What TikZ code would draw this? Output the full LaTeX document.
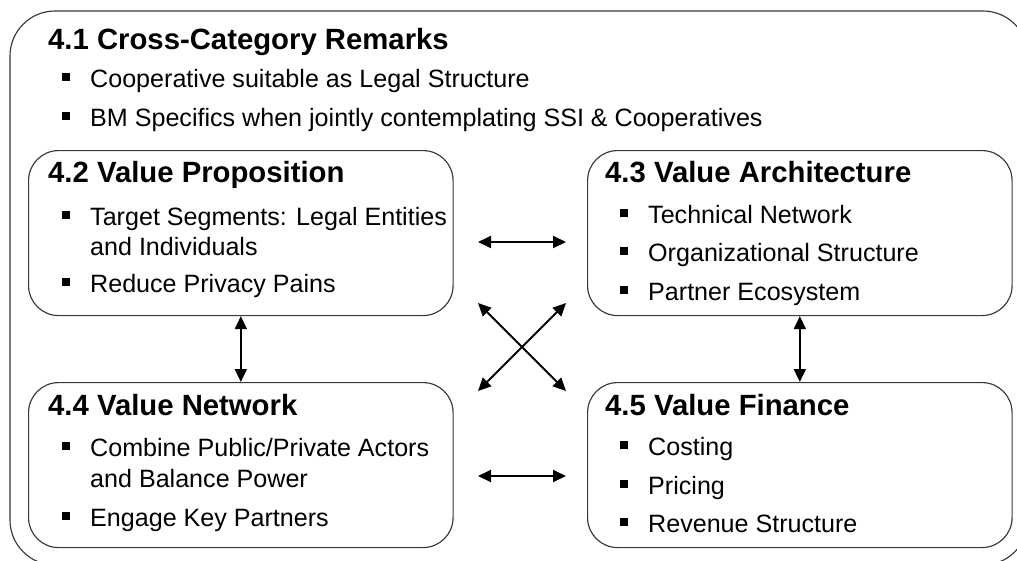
\documentclass[tikz,border=0pt]{standalone}
\usepackage{fontspec}
\setmainfont{Liberation Sans}
\usetikzlibrary{arrows.meta}
\begin{document}
\begin{tikzpicture}[x=1pt,y=-1pt,
  frame/.style={draw=black!78, line width=1.15pt},
  box/.style={frame, rounded corners=30pt, minimum width=424.5pt, minimum height=165pt,
              inner sep=0pt, anchor=north west},
  head/.style={anchor=base west, inner sep=0pt, font=\fontsize{29.3}{34}\selectfont\bfseries},
  item/.style={anchor=base west, inner sep=0pt, font=\fontsize{25.1}{30}\selectfont},
  link/.style={line width=1.9pt,
               {Triangle[length=13pt,width=12pt]}-{Triangle[length=13pt,width=12pt]}},
]
\useasboundingbox (0,0) rectangle (1017,560);

% outer frame, running past the right and bottom edges
\begin{scope}
  \clip (0,0) rectangle (1017,560);
  \draw[frame, rounded corners=45pt] (10,11) rectangle (1028,565);
\end{scope}

% 4.1 cross-category remarks
\node[head] (h41) at (48,49) {4.1 Cross-Category Remarks};
\node[item] (t411) at (90,87) {Cooperative suitable as Legal Structure};
\node[item] (t412) at (90,126) {BM Specifics when jointly contemplating SSI \& Cooperatives};

% the four category boxes
\node[box] (b42) at (28,150) {};
\node[box] (b43) at (587,150) {};
\node[box] (b44) at (28,382) {};
\node[box] (b45) at (587,382) {};

% 4.2 value proposition
\node[head] (h42) at (48,182) {4.2 Value Proposition};
\node[item] (t421) at (90,225) {Target Segments: Legal Entities};
\node[item] (t421b) at (90,255) {and Individuals};
\node[item] (t422) at (90,292) {Reduce Privacy Pains};

% 4.3 value architecture
\node[head] (h43) at (605,182) {4.3 Value Architecture};
\node[item] (t431) at (648,223) {Technical Network};
\node[item] (t432) at (648,261) {Organizational Structure};
\node[item] (t433) at (648,300) {Partner Ecosystem};

% 4.4 value network
\node[head] (h44) at (48,415) {4.4 Value Network};
\node[item] (t441) at (90,456) {Combine Public/Private Actors};
\node[item] (t441b) at (90,487) {and Balance Power};
\node[item] (t442) at (90,526) {Engage Key Partners};

% 4.5 value finance
\node[head] (h45) at (605,415) {4.5 Value Finance};
\node[item] (t451) at (648,455) {Costing};
\node[item] (t452) at (648,494) {Pricing};
\node[item] (t453) at (648,532) {Revenue Structure};

% square bullets in front of each item
\foreach \n in {t411,t412,t421,t422,t431,t432,t433,t441,t442,t451,t452,t453}
  \fill ([shift={(-28pt,6.5pt)}]\n.base west) rectangle ++(7.5pt,7.5pt);

% free ends of the arrows between the boxes
\coordinate (ha1) at (478,242);
\coordinate (hb1) at (566,242);
\coordinate (ha2) at (478,476);
\coordinate (hb2) at (566,476);
\coordinate (da1) at (478,303);
\coordinate (db1) at (566,391);
\coordinate (da2) at (566,303);
\coordinate (db2) at (478,391);

\draw[link] (ha1) -- (hb1);
\draw[link] (ha2) -- (hb2);
\draw[link] (da1) -- (db1);
\draw[link] (da2) -- (db2);
\draw[link] (b42) -- (b44);
\draw[link] (b43) -- (b45);
\end{tikzpicture}
\end{document}
